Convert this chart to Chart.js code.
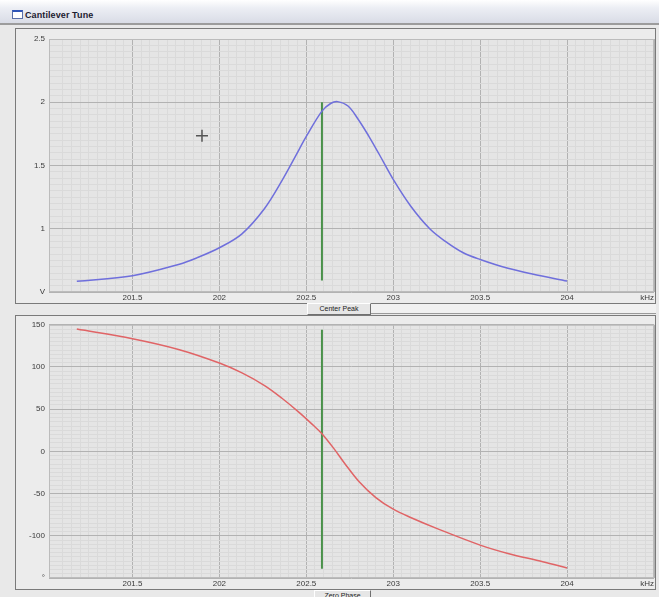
<!DOCTYPE html>
<html>
<head>
<meta charset="utf-8">
<title>Cantilever Tune</title>
<script src="https://cdn.jsdelivr.net/npm/chart.js@4/dist/chart.umd.min.js"></script>
<style>
  html, body { margin: 0; padding: 0; }
  body {
    width: 659px; height: 597px; overflow: hidden; position: relative;
    background: #e9e9e9;
    font-family: "Liberation Sans", Arial, sans-serif;
  }
  #titlebar {
    position: absolute; left: 0; top: 0; width: 659px; height: 23px;
    background: linear-gradient(to bottom, #ffffff 0%, #eceef4 35%, #d9dce6 100%);
    border-bottom: 2px solid #9c9c9c;
  }
  #titlebar .icon {
    position: absolute; left: 12px; top: 10px; width: 9px; height: 6px;
    background: #fff; border: 1px solid #5a6fa8; border-top: 2px solid #2f55b8;
  }
  #titlebar .text {
    position: absolute; left: 25px; top: 10px; font-size: 9px; font-weight: bold;
    color: #1c2030; letter-spacing: 0.1px;
  }
  .panel {
    position: absolute; box-sizing: border-box;
    border: 1px solid #7a7a7a; background: #ececec;
  }
  canvas { position: absolute; display: block; }
  .btn {
    position: absolute; box-sizing: border-box; background: #e6e6e6;
    border: 1px solid; border-color: #ffffff #707070 #707070 #ffffff;
    font-size: 7px; color: #222; text-align: center; line-height: 10px;
    overflow: hidden; white-space: nowrap;
  }
  .strip {
    position: absolute; box-sizing: border-box; background: #f1f1f1;
    border-bottom: 1px solid #9a9a9a;
  }
</style>
</head>
<body>
<div id="titlebar"><div class="icon"></div><div class="text">Cantilever Tune</div></div>

<div class="panel" style="left:15px;top:28px;width:641px;height:276px;"></div>
<canvas id="ampChart" width="639" height="273" style="left:16px;top:29px;"></canvas>
<div class="btn" style="left:307px;top:303px;width:64px;height:12px;">Center Peak</div>
<div class="strip" style="left:371px;top:304px;width:285px;height:10px;"></div>

<div class="panel" style="left:15px;top:315px;width:641px;height:275px;"></div>
<canvas id="phaseChart" width="639" height="272" style="left:16px;top:316px;"></canvas>
<div class="btn" style="left:314px;top:590px;width:57px;height:12px;">Zero Phase</div>

<script>
// amplitude sweep (kHz -> V)
const ampFreq  = [201.18, 201.5, 201.77, 201.87, 202.0, 202.13, 202.26, 202.36, 202.46, 202.5, 202.59, 202.64, 202.68, 202.74, 202.8, 202.86, 202.92, 203.0, 203.1, 203.21, 203.3, 203.4, 203.5, 203.66, 203.8, 204.0];
const ampVolts = [0.585, 0.629, 0.72, 0.77, 0.85, 0.96, 1.16, 1.38, 1.63, 1.73, 1.93, 1.99, 2.005, 1.97, 1.862, 1.731, 1.587, 1.39, 1.18, 1.0, 0.9, 0.812, 0.757, 0.687, 0.642, 0.587];

// phase sweep (kHz -> degrees)
const phaseFreq = [201.18, 201.5, 201.77, 202.0, 202.13, 202.26, 202.36, 202.46, 202.54, 202.59, 202.66, 202.72, 202.8, 202.9, 203.0, 203.1, 203.26, 203.5, 203.66, 203.86, 204.0];
const phaseDeg  = [144.9, 133.5, 120.5, 104.7, 93, 78, 63, 46, 31, 21, 3, -14, -35.0, -54.7, -68.5, -78.3, -92.1, -111.0, -120.9, -130.7, -138.2];

// drive frequency marker and cursor
const markerFreq = 202.59;
const ampMarker = [2.0, 0.59];
const phaseMarker = [144, -139];
const cursorPoint = { x: 201.9, y: 1.735 };

const freqRange = [201.02, 204.5];
const ampRange = [0.5, 2.5];
const phaseRange = [-150, 150];

const MAJOR = '#b2b2b2', MINOR = '#dadada';

Chart.defaults.font.family = '"Liberation Sans", Arial, sans-serif';
Chart.defaults.font.size = 8;
Chart.defaults.color = '#3a3a3a';

function isMultiple(v, step) {
  const r = v / step;
  return Math.abs(r - Math.round(r)) < 1e-6;
}

const plotFrame = {
  id: 'plotFrame',
  beforeDraw(chart) {
    const a = chart.chartArea, c = chart.ctx;
    c.save();
    c.fillStyle = '#e5e5e5';
    c.fillRect(a.left, a.top, a.right - a.left, a.bottom - a.top);
    c.restore();
  },
  afterDraw(chart) {
    const a = chart.chartArea, c = chart.ctx;
    c.save();
    c.strokeStyle = '#bcbcbc';
    c.lineWidth = 1;
    c.strokeRect(a.left + 0.5, a.top + 0.5, a.right - a.left - 1, a.bottom - a.top - 1);
    c.restore();
  }
};

function xScale() {
  return {
    type: 'linear', min: freqRange[0], max: freqRange[1],
    afterFit(s) { s.height = 10; s.paddingLeft = 0; s.paddingRight = 0; },
    border: { display: false },
    grid: {
      drawTicks: false,
      color: ctx => (ctx.tick && isMultiple(ctx.tick.value, 0.5)) ? MAJOR : MINOR
    },
    ticks: {
      stepSize: 0.05, autoSkip: false, maxRotation: 0, padding: 1, align: 'inner',
      callback: v => {
        if (!isMultiple(v, 0.5)) return '';
        if (Math.abs(v - freqRange[1]) < 1e-6) return 'kHz';
        if (v < 201.4) return '';
        return String(Math.round(v * 10) / 10);
      }
    }
  };
}

function yScale(range, step, major, unit) {
  return {
    type: 'linear', min: range[0], max: range[1],
    afterFit(s) { s.width = 33; },
    border: { display: false },
    grid: {
      drawTicks: false,
      color: ctx => (ctx.tick && isMultiple(ctx.tick.value, major)) ? MAJOR : MINOR
    },
    ticks: {
      stepSize: step, autoSkip: false, padding: 4,
      callback: v => {
        if (!isMultiple(v, major)) return '';
        if (Math.abs(v - range[0]) < 1e-6) return unit;
        return String(Math.round(v * 10) / 10);
      }
    }
  };
}

function baseOptions(padTop, yOpts) {
  return {
    responsive: false, animation: false,
    layout: { autoPadding: false, padding: { top: padTop, right: 1, left: 0, bottom: 0 } },
    plugins: { legend: { display: false }, tooltip: { enabled: false } },
    scales: { x: xScale(), y: yOpts }
  };
}

new Chart(document.getElementById('ampChart'), {
  type: 'line',
  data: {
    datasets: [
      {
        data: ampFreq.map((f, i) => ({ x: f, y: ampVolts[i] })),
        borderColor: '#6f6fdc', borderWidth: 1.5, pointRadius: 0, tension: 0.35
      },
      {
        data: ampMarker.map(v => ({ x: markerFreq, y: v })),
        borderColor: '#4a914a', borderWidth: 2, pointRadius: 0
      },
      {
        data: [cursorPoint], showLine: false,
        pointStyle: 'cross', pointRadius: 6, borderColor: '#555555', borderWidth: 1.5
      }
    ]
  },
  options: baseOptions(10, yScale(ampRange, 0.05, 0.5, 'V')),
  plugins: [plotFrame]
});

new Chart(document.getElementById('phaseChart'), {
  type: 'line',
  data: {
    datasets: [
      {
        data: phaseFreq.map((f, i) => ({ x: f, y: phaseDeg[i] })),
        borderColor: '#e06466', borderWidth: 1.5, pointRadius: 0, tension: 0.35
      },
      {
        data: phaseMarker.map(v => ({ x: markerFreq, y: v })),
        borderColor: '#4a914a', borderWidth: 2, pointRadius: 0
      }
    ]
  },
  options: baseOptions(8, yScale(phaseRange, 5, 50, '°')),
  plugins: [plotFrame]
});
</script>
</body>
</html>
